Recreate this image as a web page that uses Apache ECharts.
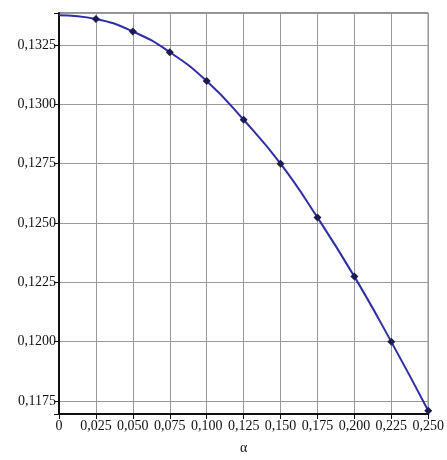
<!DOCTYPE html>
<html><head><meta charset="utf-8">
<script src="https://cdn.jsdelivr.net/npm/echarts@6/dist/echarts.min.js"></script>
<style>html,body{margin:0;padding:0;background:#fff}#c{width:447px;height:460px}</style>
</head><body><div id="c"></div>
<script>
var alphaValues = [0, 0.025, 0.05, 0.075, 0.1, 0.125, 0.15, 0.175, 0.2, 0.225, 0.25];
var yValues = [0.13376, 0.13360, 0.13307, 0.13220, 0.13098, 0.12935, 0.12750, 0.12523, 0.12274, 0.11999, 0.11709];
var xTickLabels = ['0','0,025','0,050','0,075','0,100','0,125','0,150','0,175','0,200','0,225','0,250'];
var yTickLabels = ['0,1175','0,1200','0,1225','0,1250','0,1275','0,1300','0,1325'];
var xName = 'α';

var data = alphaValues.map(function (x, i) {
  var d = {value: [x, yValues[i]]};
  if (i === 0) d.symbol = 'none';
  return d;
});
var font = '"Liberation Serif", "DejaVu Serif", serif';
var chart = echarts.init(document.getElementById('c'));
chart.setOption({
  animation: false,
  backgroundColor: '#fff',
  grid: {left: 59, right: 13, top: 13, bottom: 41, show: true, borderColor: '#222', borderWidth: 1},
  xAxis: {
    type: 'value', min: 0, max: 0.25, interval: 0.025,
    name: xName, nameLocation: 'middle', nameGap: 27,
    nameTextStyle: {fontFamily: font, fontSize: 14, color: '#111'},
    axisLine: {lineStyle: {color: '#111', width: 2}},
    axisTick: {show: true, length: 5, lineStyle: {color: '#111'}},
    axisLabel: {fontFamily: font, fontSize: 14, color: '#111', margin: 5,
      formatter: function (v) { var i = Math.round(v / 0.025); return xTickLabels[i] || ''; }},
    splitLine: {show: true, lineStyle: {color: '#999', width: 1}}
  },
  yAxis: {
    type: 'value', min: 0.11695, max: 0.13385,
    minInterval: 0.0025, maxInterval: 0.0025, splitNumber: 7,
    axisLine: {show: true, lineStyle: {color: '#111', width: 2}},
    axisTick: {show: true, length: 5, lineStyle: {color: '#111'}},
    axisLabel: {fontFamily: font, fontSize: 14, color: '#111', margin: 3,
      showMinLabel: true, showMaxLabel: true,
      formatter: function (v) {
        var k = (v - 0.1175) / 0.0025; var r = Math.round(k);
        if (Math.abs(k - r) > 1e-4) return '';
        return yTickLabels[r] || '';
      }},
    splitLine: {show: true, lineStyle: {color: '#999', width: 1}}
  },
  series: [{
    type: 'line', data: data, smooth: true,
    symbol: 'diamond', symbolSize: 8,
    lineStyle: {color: '#2e2ea6', width: 2},
    itemStyle: {color: '#1c1c50'}
  }]
});
</script></body></html>
